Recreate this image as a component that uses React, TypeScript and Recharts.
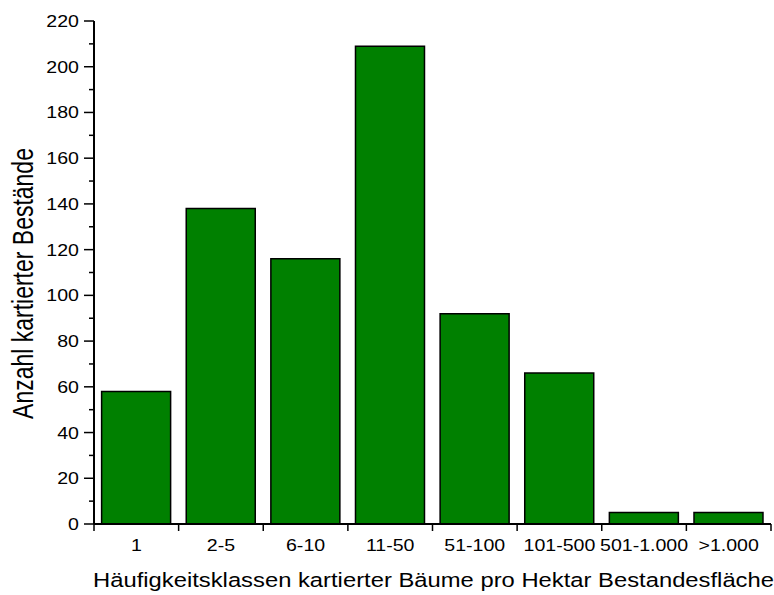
import React from 'react';
import { BarChart, Bar, XAxis, YAxis, Label } from 'recharts';

const categories = ['1', '2-5', '6-10', '11-50', '51-100', '101-500', '501-1.000', '>1.000'];
const counts = [58, 138, 116, 209, 92, 66, 5, 5];
const yTicks = [0, 10, 20, 30, 40, 50, 60, 70, 80, 90, 100, 110, 120, 130, 140, 150, 160, 170, 180, 190, 200, 210, 220];
const xTitle = 'Häufigkeitsklassen kartierter Bäume pro Hektar Bestandesfläche';
const yTitle = 'Anzahl kartierter Bestände';

const data = categories.map((name, i) => ({ name, value: counts[i] }));

const FONT = '"Liberation Sans", Arial, sans-serif';
const SX = 1.2;

const YTick = (props: any) => {
  const { x, y, payload } = props;
  const v = payload.value;
  const major = v % 20 === 0;
  const axisX = x + 15;
  return (
    <g>
      <line x1={axisX} x2={axisX - (major ? 10 : 5)} y1={y} y2={y} stroke="#000" strokeWidth={1.5} />
      {major && (
        <text
          transform={`translate(${x},${y + 6}) scale(${SX},1)`}
          x={0}
          y={0}
          textAnchor="end"
          fontSize={16.3}
          fontFamily={FONT}
          fill="#000"
        >
          {v}
        </text>
      )}
    </g>
  );
};

const XTick = (props: any) => {
  const { x, y, payload, index, width, visibleTicksCount } = props;
  const band = width / visibleTicksCount;
  const axisY = y - 13;
  return (
    <g>
      {index === 0 && (
        <line x1={x - band / 2} x2={x - band / 2} y1={axisY} y2={axisY + 7} stroke="#000" strokeWidth={1.5} />
      )}
      <line x1={x + band / 2} x2={x + band / 2} y1={axisY} y2={axisY + 7} stroke="#000" strokeWidth={1.5} />
      <text
        transform={`translate(${x},${y + 14}) scale(${SX},1)`}
        x={0}
        y={0}
        textAnchor="middle"
        fontSize={16.3}
        fontFamily={FONT}
        fill="#000"
      >
        {payload.value}
      </text>
    </g>
  );
};

const XTitle = (props: any) => {
  const vb = props.viewBox || {};
  const cx = vb.x + vb.width / 2 + 1;
  const by = vb.y + vb.height - 8.5;
  return (
    <text
      transform={`translate(${cx},${by}) scale(1.22,1)`}
      x={0}
      y={0}
      textAnchor="middle"
      fontSize={19.5}
      fontFamily={FONT}
      fill="#000"
    >
      {xTitle}
    </text>
  );
};

const YTitle = (props: any) => {
  const vb = props.viewBox || {};
  const cy = vb.y + vb.height / 2 + 11;
  return (
    <text
      transform={`translate(33,${cy}) scale(1.3,1) rotate(-90)`}
      x={0}
      y={0}
      textAnchor="middle"
      fontSize={23}
      fontFamily={FONT}
      fill="#000"
    >
      {yTitle}
    </text>
  );
};

export default function App() {
  return (
    <div style={{ position: 'absolute', left: 0, top: 0, background: '#fff' }}>
      <BarChart
        width={774}
        height={595}
        data={data}
        margin={{ top: 21, right: 3, bottom: 0, left: 0 }}
        barCategoryGap="9%"
      >
        <XAxis
          dataKey="name"
          height={71}
          interval={0}
          tickLine={false}
          tickSize={7}
          tickMargin={6}
          tick={<XTick />}
          axisLine={{ stroke: '#000', strokeWidth: 2 }}
        >
          <Label content={<XTitle />} />
        </XAxis>
        <XAxis
          xAxisId="top"
          dataKey="name"
          orientation="top"
          mirror
          height={0}
          tick={false}
          tickSize={3}
          tickLine={{ stroke: '#000' }}
          axisLine={{ stroke: '#000', strokeWidth: 2 }}
        />
        <YAxis
          width={94}
          domain={[0, 220]}
          ticks={yTicks}
          interval={0}
          type="number"
          allowDataOverflow
          tickLine={false}
          tickSize={10}
          tickMargin={5}
          tick={<YTick />}
          axisLine={{ stroke: '#000', strokeWidth: 2 }}
        >
          <Label content={<YTitle />} />
        </YAxis>
        <YAxis
          yAxisId="r"
          orientation="right"
          mirror
          width={0}
          domain={[0, 220]}
          ticks={yTicks}
          interval={0}
          type="number"
          tick={false}
          tickSize={3}
          tickLine={{ stroke: '#000' }}
          axisLine={{ stroke: '#000', strokeWidth: 2 }}
        />
        <Bar dataKey="value" fill="#008000" stroke="#000" strokeWidth={1.5} isAnimationActive={false} />
      </BarChart>
    </div>
  );
}
